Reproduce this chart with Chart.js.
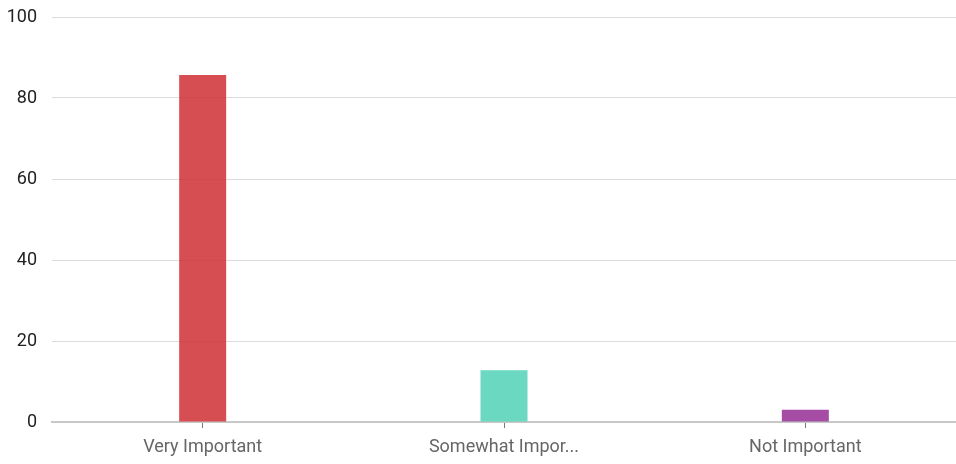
<!DOCTYPE html>
<html lang="en">
<head>
  <meta charset="UTF-8" />
  <title>Importance</title>
  <script src="https://cdn.jsdelivr.net/npm/chart.js"></script>
  <style>
    html, body { margin: 0; padding: 0; background: #fff; }
    .wrap { width: 956px; height: 464px; }
  </style>
</head>
<body>
  <div class="wrap"><canvas id="barChart"></canvas></div>
  <script>
    const categories = ['Very Important', 'Somewhat Impor...', 'Not Important'];
    const values = [85.7, 12.8, 3.0];
    const barColors = ['rgba(209, 54, 58, 0.88)', 'rgba(86, 212, 184, 0.88)', 'rgba(153, 52, 153, 0.88)'];
    const yTicks = [0, 20, 40, 60, 80, 100];

    const fontFamily = "Roboto, 'Liberation Sans', Arial, sans-serif";

    new Chart(document.getElementById('barChart').getContext('2d'), {
      type: 'bar',
      data: {
        labels: categories,
        datasets: [{
          data: values,
          backgroundColor: barColors,
          categoryPercentage: 1,
          barPercentage: 0.156
        }]
      },
      options: {
        responsive: true,
        maintainAspectRatio: false,
        animation: false,
        layout: { padding: { top: 17, right: 0, left: 0, bottom: 0 } },
        plugins: { legend: { display: false }, tooltip: { enabled: false } },
        scales: {
          x: {
            grid: { offset: false, drawOnChartArea: false, drawTicks: true, tickLength: 6, color: '#777' },
            border: { color: '#c8c8c8', width: 2 },
            ticks: { color: '#666', font: { family: fontFamily, size: 18, lineHeight: 0.6 }, padding: 14, maxRotation: 0 },
            afterFit: axis => { axis.height = 42; }
          },
          y: {
            min: 0,
            max: 100,
            afterBuildTicks: axis => { axis.ticks = yTicks.map(v => ({ value: v })); },
            afterFit: axis => { axis.width = 52; },
            grid: { color: '#dcdcdc', drawTicks: false },
            border: { display: false },
            ticks: { color: '#222', font: { family: fontFamily, size: 18, lineHeight: 0.1 }, padding: 15 }
          }
        }
      }
    });
  </script>
</body>
</html>
